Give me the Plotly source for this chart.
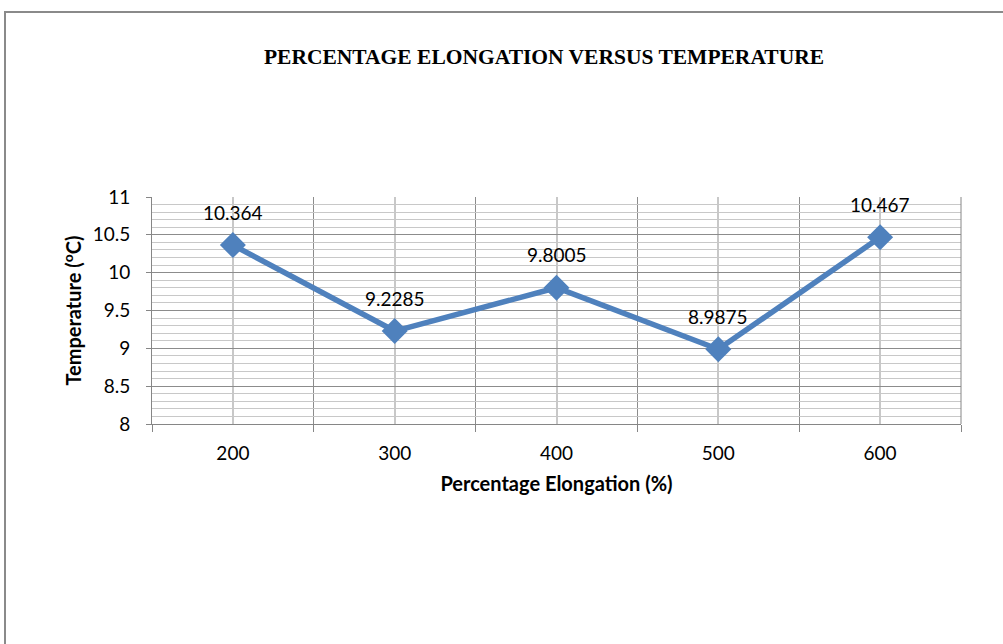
import plotly.graph_objects as go

elongation = [200, 300, 400, 500, 600]
temperature = [10.364, 9.2285, 9.8005, 8.9875, 10.467]
labels = ["10.364", "9.2285", "9.8005", "8.9875", "10.467"]
boundaries = [150, 250, 350, 450, 550, 650]

W, H = 1003, 644
L, R, T, B = 152, 961, 197, 424
FONT = "Lato, Noto Sans, sans-serif"

fig = go.Figure()
fig.add_trace(go.Scatter(
    x=elongation, y=temperature, mode="lines+markers",
    line=dict(color="#4F81BD", width=5.5),
    marker=dict(symbol="diamond", size=20, color="#4F81BD"),
    showlegend=False, hoverinfo="skip"))

for xv, yv, t in zip(elongation, temperature, labels):
    fig.add_annotation(x=xv, y=yv, text=t, showarrow=False, yshift=33,
                       font=dict(family=FONT, size=19, color="#000"))

fig.update_layout(
    width=W, height=H,
    margin=dict(l=L, r=W - R, t=T, b=H - B),
    paper_bgcolor="white", plot_bgcolor="white",
    title=dict(text="<b>PERCENTAGE ELONGATION VERSUS TEMPERATURE</b>",
               x=544 / W, xanchor="center", y=1 - 56 / H, yanchor="middle",
               yref="container",
               font=dict(family="Liberation Serif, Times New Roman, serif", size=21.5, color="#000")),
    xaxis=dict(range=[150, 650], tickvals=elongation, ticktext=[str(v) for v in elongation],
               ticks="", showgrid=True, gridcolor="#C8C8C8", gridwidth=2,
               showline=True, linecolor="#868686", linewidth=1, zeroline=False,
               ticklabelstandoff=12,
               tickfont=dict(family=FONT, size=19, color="#000"),
               title=dict(text="<b>Percentage Elongation (%)</b>", standoff=14,
                          font=dict(family=FONT, size=20, color="#000")),
               minor=dict(tickvals=boundaries, ticks="outside", ticklen=7, tickcolor="#868686",
                          showgrid=True, gridcolor="#8C8C8C", gridwidth=1)),
    yaxis=dict(range=[8, 11], dtick=0.5, tick0=8, ticks="outside", ticklen=5, tickcolor="#868686",
               showgrid=True, gridcolor="#8C8C8C", gridwidth=1,
               showline=True, linecolor="#868686", linewidth=1, zeroline=False,
               ticklabelstandoff=12,
               tickfont=dict(family=FONT, size=19, color="#000"),
               title=dict(text="<b>Temperature (<sup>o</sup>C)</b>", standoff=5,
                          font=dict(family=FONT, size=20, color="#000")),
               minor=dict(dtick=0.1, showgrid=True, gridcolor="#C8C8C8", gridwidth=1, ticks="")),
)

# right border of the plot area
fig.add_shape(type="line", xref="paper", yref="paper", x0=1, x1=1, y0=0, y1=1,
              line=dict(color="#868686", width=1), layer="above")
# outer chart frame
pw, ph = R - L, B - T
fig.add_shape(type="rect", xref="paper", yref="paper",
              x0=(5 - L) / pw, x1=(1090 - L) / pw,
              y0=(B - 700) / ph, y1=1 + (T - 12) / ph,
              line=dict(color="#8A8A8A", width=2), fillcolor="rgba(0,0,0,0)")

fig.write_html("out.html", config={"displayModeBar": False},
               post_script="document.body.style.margin='0';document.body.style.overflow='hidden';")
